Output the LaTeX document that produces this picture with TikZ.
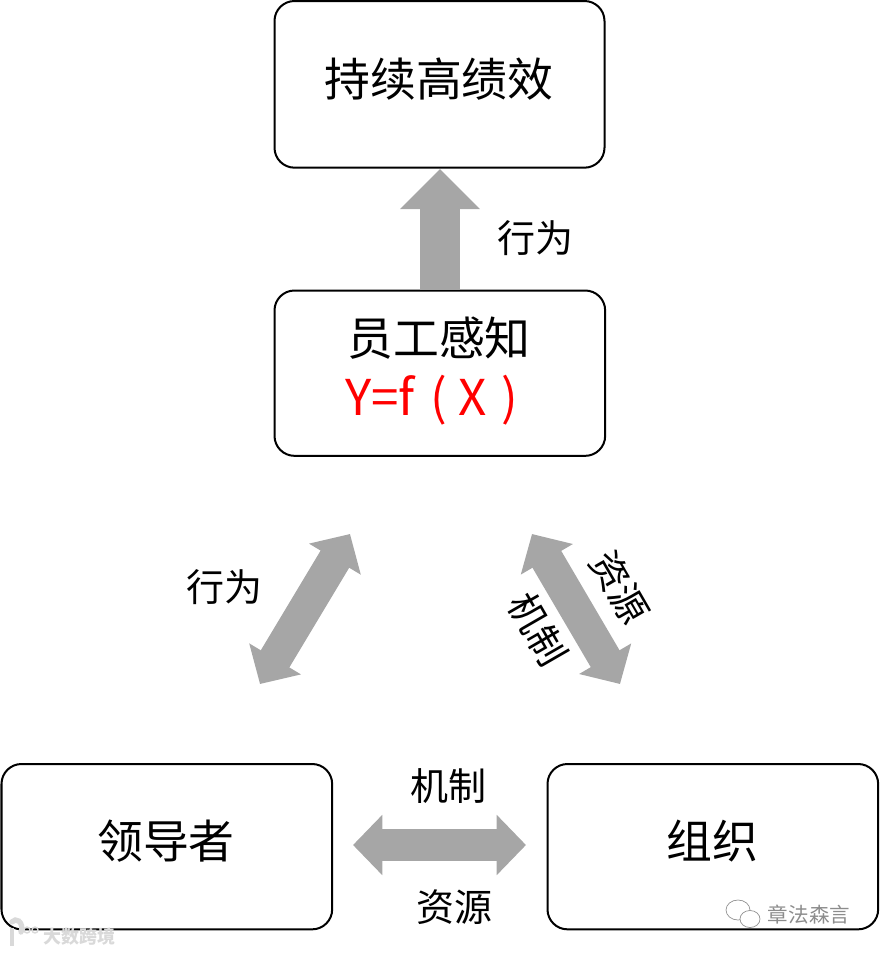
\documentclass[tikz,border=0pt]{standalone}
\usepackage{fontspec}
\setmainfont{Noto Sans CJK SC}
\usepackage{xcolor}
\usetikzlibrary{calc,arrows.meta}
\definecolor{flowgray}{HTML}{A6A6A6}
\definecolor{formula}{HTML}{FF0000}
\definecolor{markgray}{HTML}{8C8C8C}
\definecolor{marklight}{HTML}{D9D9D9}
\tikzset{
  box/.style={draw=black, line width=1.5pt, rounded corners=15pt, anchor=north west, inner sep=0pt},
  flow/.style={draw=flowgray, line width=#1},
  flow/.default=30pt,
  uptip/.style={-{Triangle[length=30pt,width=58pt]}},
  bothtip/.style={{Triangle[length=22pt,width=44pt]}-{Triangle[length=22pt,width=44pt]}},
  title/.style={text=black, font=\fontsize{34.4}{40}\selectfont},
  lab/.style={text=black, font=\fontsize{28.5}{32}\selectfont},
  wmark/.style={text=markgray, font=\fontsize{15.4}{18}\selectfont},
  wmarkl/.style={text=marklight, font=\bfseries\fontsize{13.5}{16}\selectfont}
}
\begin{document}
\begin{tikzpicture}[x=0.75pt,y=-0.75pt]
  \useasboundingbox (0,0) rectangle (879,954);

  % boxes
  \node[box,minimum width=247.5pt,minimum height=125pt] (goal) at (273.5,0) {};
  \node[box,minimum width=248pt,minimum height=124pt] (sense) at (273.5,289.5) {};
  \node[box,minimum width=248pt,minimum height=124pt] (leader) at (0.5,763) {};
  \node[box,minimum width=248pt,minimum height=124pt] (org) at (546.5,763) {};

  \node[title] (goaltxt) at (439,79) {持续高绩效};
  \node[title] (sensetxt) at (439,338) {员工感知};
  \node[text=formula,font=\fontsize{37}{40}\selectfont,anchor=west,inner sep=0pt] (ftxt) at (345,400)
    {Y=f\hspace{12pt}(\hspace{8pt}X\hspace{11pt})};
  \node[title] (leadertxt) at (166,841) {领导者};
  \node[title] (orgtxt) at (712,841) {组织};

  % arrows
  \coordinate (upS) at (440,290);
  \coordinate (upE) at (440,169);
  \coordinate (lA) at (260,684);
  \coordinate (lB) at (350,534);
  \coordinate (rA) at (532,534);
  \coordinate (rB) at (620,684);
  \coordinate (hA) at (353,845);
  \coordinate (hB) at (526,845);
  \draw[flow,uptip] (upS) -- (upE);
  \draw[flow=25pt,bothtip] (lA) -- (lB);
  \draw[flow=25pt,bothtip] (rA) -- (rB);
  \draw[flow=24pt,bothtip] (hA) -- (hB);

  % labels
  \node[lab] (upl) at (535,238) {行为};
  \node[lab] (ll) at (224,587) {行为};
  \node[lab,rotate=-60] (rs) at (620,587) {资源};
  \node[lab,rotate=-60] (rj) at (538,629) {机制};
  \node[lab] (hj) at (448,786) {机制};
  \node[lab] (hs) at (454,907) {资源};

  % watermarks
  \node[wmark] (wmr) at (809,915) {章法森言};
  \node[wmarkl] (wml) at (79,937) {大数跨境};
  \draw[markgray,line width=0.5pt] (738,910) ellipse (12 and 10);
  \draw[markgray,fill=white,line width=0.5pt] (750,919) ellipse (10 and 8.5);
  \draw[marklight,line width=4pt,line cap=round] (21,932) arc (30:-130:6 and 8);
  \draw[marklight,line width=3pt] (12,928) -- (12,946);
  \draw[marklight,line width=1pt] (27,930) circle (3) (35,930) circle (3);
\end{tikzpicture}
\end{document}
